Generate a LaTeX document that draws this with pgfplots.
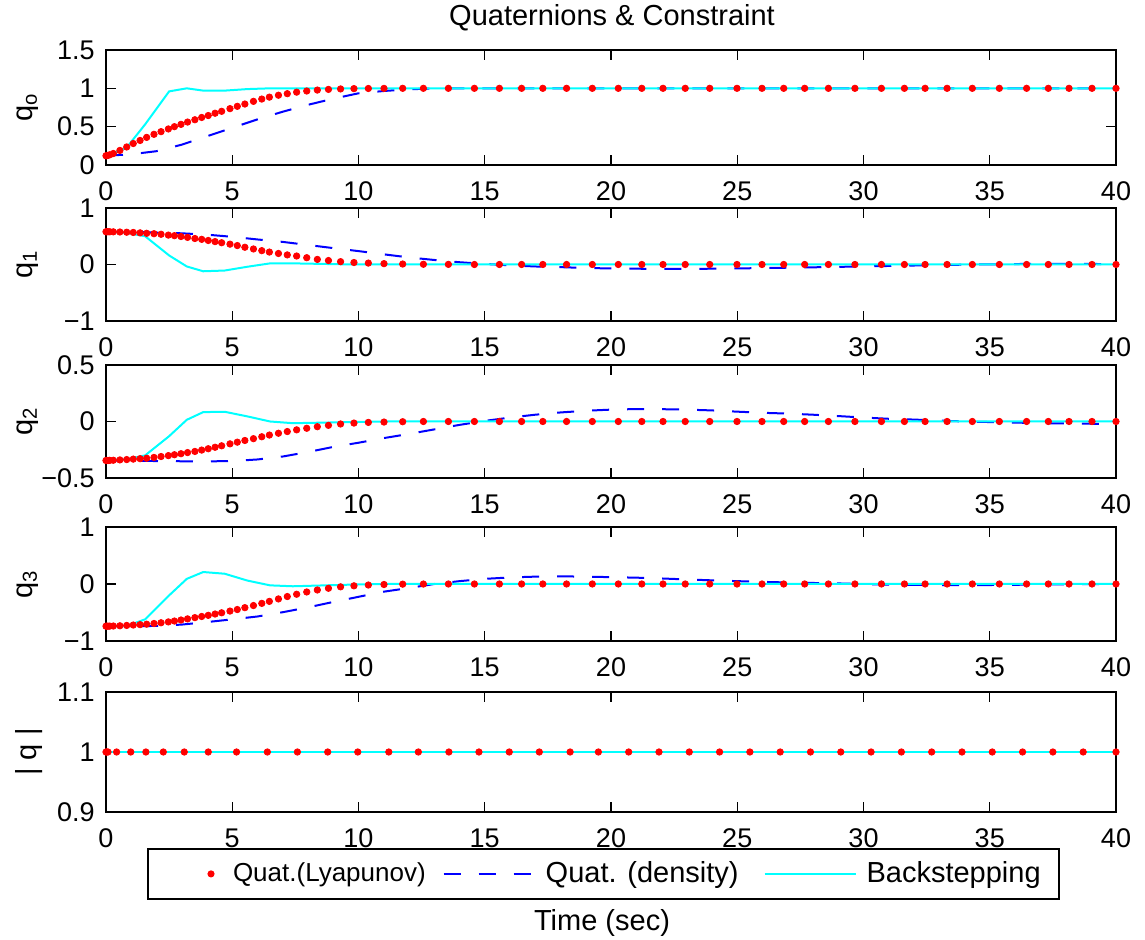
\documentclass[border=0pt]{standalone}
\usepackage{fontspec}
\setmainfont{Liberation Sans}
\usepackage{pgfplots}
\usepackage{pgfplotstable}
\pgfplotsset{compat=1.18}
\definecolor{mred}{rgb}{1,0,0}
\definecolor{mblue}{rgb}{0,0,1}
\definecolor{mcyan}{rgb}{0,1,1}

% Quaternion components, Lyapunov controller (solver output steps)
\pgfplotstableread{
t      q0     q1     q2      q3
0      0.120  0.580 -0.345  -0.740
0.03   0.122  0.580 -0.345  -0.740
0.08   0.126  0.580 -0.345  -0.740
0.15   0.133  0.579 -0.344  -0.739
0.29   0.150  0.578 -0.343  -0.737
0.55   0.190  0.575 -0.340  -0.733
0.82   0.235  0.571 -0.337  -0.727
1.08   0.280  0.567 -0.333  -0.720
1.35   0.320  0.560 -0.329  -0.713
1.61   0.360  0.552 -0.325  -0.705
1.90   0.400  0.545 -0.318  -0.693
2.18   0.435  0.535 -0.310  -0.680
2.47   0.470  0.520 -0.302  -0.665
2.71   0.500  0.510 -0.294  -0.650
2.97   0.530  0.495 -0.285  -0.632
3.23   0.560  0.480 -0.275  -0.612
3.52   0.590  0.460 -0.265  -0.590
3.79   0.620  0.445 -0.253  -0.570
4.05   0.645  0.425 -0.241  -0.550
4.32   0.675  0.405 -0.228  -0.527
4.58   0.700  0.385 -0.215  -0.505
4.91   0.735  0.360 -0.198  -0.475
5.20   0.765  0.335 -0.183  -0.448
5.50   0.795  0.305 -0.168  -0.415
5.84   0.830  0.275 -0.152  -0.378
6.17   0.860  0.245 -0.135  -0.340
6.47   0.885  0.220 -0.120  -0.305
6.83   0.910  0.195 -0.104  -0.262
7.18   0.930  0.170 -0.089  -0.220
7.55   0.950  0.150 -0.074  -0.180
7.95   0.965  0.120 -0.060  -0.140
8.37   0.977  0.090 -0.046  -0.105
8.81   0.986  0.070 -0.034  -0.075
9.29   0.992  0.050 -0.022  -0.050
9.82   0.996  0.035 -0.014  -0.032
10.39  0.998  0.025 -0.008  -0.018
11.01  0.999  0.015 -0.005  -0.009
11.75  1.000  0.008 -0.002  -0.003
12.57  1.000  0.004  0.000  -0.001
13.56  1.000  0.002  0.000   0.000
14.59  1.000  0.000  0.000   0.000
15.58  1.000  0.000  0.000   0.000
16.46  1.000  0.000  0.000   0.000
17.30  1.000  0.000  0.000   0.000
18.24  1.000  0.000  0.000   0.000
19.26  1.000  0.000  0.000   0.000
20.29  1.000  0.000  0.000   0.000
21.22  1.000  0.000  0.000   0.000
22.06  1.000  0.000  0.000   0.000
22.94  1.000  0.000  0.000   0.000
23.91  1.000  0.000  0.000   0.000
24.99  1.000  0.000  0.000   0.000
25.98  1.000  0.000  0.000   0.000
26.84  1.000  0.000  0.000   0.000
27.67  1.000  0.000  0.000   0.000
28.61  1.000  0.000  0.000   0.000
29.66  1.000  0.000  0.000   0.000
30.71  1.000  0.000  0.000   0.000
31.62  1.000  0.000  0.000   0.000
32.44  1.000  0.000  0.000   0.000
33.31  1.000  0.000  0.000   0.000
34.31  1.000  0.000  0.000   0.000
35.38  1.000  0.000  0.000   0.000
36.46  1.000  0.000  0.000   0.000
37.32  1.000  0.000  0.000   0.000
38.14  1.000  0.000  0.000   0.000
39.05  1.000  0.000  0.000   0.000
40.00  1.000  0.000  0.000   0.000
}\lyap

% Norm of the quaternion, Lyapunov controller
\pgfplotstableread{
t      n
0      1
0.03   1
0.08   1
0.42   1
0.98   1
1.58   1
2.27   1
3.10   1
4.05   1
5.17   1
6.39   1
7.58   1
8.78   1
9.97   1
11.20  1
12.37  1
13.58  1
14.77  1
15.97  1
17.16  1
18.38  1
19.50  1
20.70  1
21.90  1
23.10  1
24.30  1
25.50  1
26.70  1
27.90  1
29.10  1
30.30  1
31.50  1
32.70  1
33.90  1
35.10  1
36.30  1
37.50  1
38.70  1
40.00  1
}\lyapnorm

% Density-function controller
\pgfplotstableread{
t   q0     q1      q2      q3      n
0   0.120  0.580  -0.345  -0.740   1
1   0.140  0.576  -0.347  -0.740   1
2   0.180  0.566  -0.350  -0.736   1
3   0.265  0.552  -0.352  -0.712   1
4   0.375  0.528  -0.353  -0.668   1
5   0.485  0.490  -0.350  -0.620   1
6   0.595  0.443  -0.336  -0.570   1
7   0.695  0.400  -0.310  -0.495   1
8   0.785  0.345  -0.270  -0.410   1
9   0.865  0.290  -0.225  -0.315   1
10  0.935  0.237  -0.188  -0.225   1
11  0.965  0.180  -0.147  -0.135   1
12  0.988  0.125  -0.110  -0.070   1
13  0.997  0.080  -0.070   0.000   1
14  1.000  0.040  -0.030   0.050   1
15  1.000  0.010   0.005   0.090   1
16  1.000 -0.015   0.035   0.115   1
17  1.000 -0.035   0.060   0.129   1
18  1.000 -0.047   0.080   0.134   1
19  1.000 -0.062   0.095   0.129   1
20  1.000 -0.070   0.105   0.120   1
21  1.000 -0.075   0.110   0.111   1
22  1.000 -0.077   0.109   0.097   1
23  1.000 -0.077   0.105   0.080   1
24  1.000 -0.075   0.098   0.064   1
25  1.000 -0.069   0.087   0.050   1
26  1.000 -0.064   0.077   0.037   1
27  1.000 -0.057   0.070   0.027   1
28  1.000 -0.050   0.060   0.018   1
29  1.000 -0.042   0.048   0.010   1
30  1.000 -0.034   0.035  -0.002   1
31  1.000 -0.026   0.024  -0.012   1
32  1.000 -0.018   0.017  -0.017   1
33  1.000 -0.010   0.008  -0.018   1
34  1.000 -0.003   0.000  -0.018   1
35  1.000  0.003  -0.005  -0.018   1
36  1.000  0.008  -0.010  -0.014   1
37  1.000  0.012  -0.014  -0.010   1
38  1.000  0.013  -0.018  -0.006   1
39  1.000  0.010  -0.020  -0.003   1
40  1.000  0.005  -0.022  -0.002   1
}\dens

% Backstepping controller
\pgfplotstableread{
t     q0     q1      q2      q3      n
0     0.120  0.580  -0.340  -0.740   1
0.8   0.220  0.560  -0.335  -0.740   1
1.55  0.530  0.500  -0.300  -0.620   1
2.5   0.960  0.160  -0.130  -0.200   1
3.2   1.000 -0.035   0.015   0.090   1
3.85  0.970 -0.120   0.083   0.210   1
4.7   0.970 -0.107   0.086   0.180   1
5.6   0.990 -0.040   0.045   0.060   1
6.5   1.000  0.020   0.000  -0.024   1
7.4   1.000  0.020  -0.015  -0.040   1
8.6   1.000  0.010  -0.010  -0.025   1
9.8   1.000  0.000  -0.005  -0.010   1
11    1.000  0.000   0.000   0.000   1
20    1.000  0.000   0.000   0.000   1
30    1.000  0.000   0.000   0.000   1
40    1.000  0.000   0.000   0.000   1
}\back

\pgfplotsset{
  qpanel/.style={
    anchor=south west,
    scale only axis,
    width=505bp,
    xmin=0, xmax=40,
    xtick={0,5,...,40},
    xticklabels={0,5,10,15,20,25,30,35,40},
    tick align=inside,
    major tick length=5bp,
    axis line style={line width=1bp},
    every tick/.style={black, line width=0.6bp},
    ticklabel style={font=\fontsize{13.5bp}{16bp}\selectfont},
    xticklabel style={anchor=base, inner sep=0pt, yshift=-17.6bp},
    yticklabel style={anchor=east, inner sep=0pt, xshift=-5.5bp},
    label style={font=\fontsize{14.5bp}{17bp}\selectfont},
    ylabel style={at={(axis description cs:-0.0663,0.5)}, anchor=south, inner sep=0pt},
    clip=false,
  },
  lyapstyle/.style={only marks, mark=*, mark size=1.6bp, mred},
  densstyle/.style={mblue, line width=1bp, dash pattern=on 8.5bp off 9bp},
  backstyle/.style={mcyan, line width=1bp},
  lyaplegend/.style={legend image code/.code={%
    \path[draw=none] (0,0) -- (29.5bp,0);
    \draw[mred, mark=*, mark size=1.25bp, only marks] plot coordinates {(22.5bp,0)};}},
  denslegend/.style={legend image code/.code={%
    \draw[mblue, line width=1bp, dash pattern=on 8.5bp off 9bp] (0,0) -- (43.5bp,0);}},
  backlegend/.style={legend image code/.code={%
    \draw[mcyan, line width=1bp] (0,0) -- (45.5bp,0);}},
}

\begin{document}
\begin{tikzpicture}
\path[use as bounding box] (0,0) rectangle (572.5bp,470bp);

% q0
\begin{axis}[qpanel, at={(53bp,387.5bp)}, height=57.5bp,
  ymin=0, ymax=1.5, ytick={0,0.5,1,1.5}, yticklabels={0,0.5,1,1.5},
  ylabel={q\textsubscript{o}},
  title={Quaternions \& Constraint},
  title style={at={(axis description cs:0.501,1.2087)}, anchor=base,
    yshift=-6pt, inner sep=0pt, font=\fontsize{14.5bp}{17bp}\selectfont}]
\addplot[lyapstyle] table[x=t, y=q0] {\lyap};
\addplot[densstyle] table[x=t, y=q0] {\dens};
\addplot[backstyle] table[x=t, y=q0] {\back};
\end{axis}

% q1
\begin{axis}[qpanel, at={(53bp,309.5bp)}, height=56.5bp,
  ymin=-1, ymax=1, ytick={-1,0,1}, yticklabels={−1,0,1},
  ylabel={q\textsubscript{1}}]
\addplot[lyapstyle] table[x=t, y=q1] {\lyap};
\addplot[densstyle] table[x=t, y=q1] {\dens};
\addplot[backstyle] table[x=t, y=q1] {\back};
\end{axis}

% q2
\begin{axis}[qpanel, at={(53bp,231bp)}, height=56.5bp,
  ymin=-0.5, ymax=0.5, ytick={-0.5,0,0.5}, yticklabels={−0.5,0,0.5},
  ylabel={q\textsubscript{2}}]
\addplot[lyapstyle] table[x=t, y=q2] {\lyap};
\addplot[densstyle] table[x=t, y=q2] {\dens};
\addplot[backstyle] table[x=t, y=q2] {\back};
\end{axis}

% q3
\begin{axis}[qpanel, at={(53bp,149.5bp)}, height=57bp,
  ymin=-1, ymax=1, ytick={-1,0,1}, yticklabels={−1,0,1},
  ylabel={q\textsubscript{3}}]
\addplot[lyapstyle] table[x=t, y=q3] {\lyap};
\addplot[densstyle] table[x=t, y=q3] {\dens};
\addplot[backstyle] table[x=t, y=q3] {\back};
\end{axis}

% |q|
\begin{axis}[qpanel, at={(53bp,64bp)}, height=60bp,
  ymin=0.9, ymax=1.1, ytick={0.9,1,1.1}, yticklabels={0.9,1,1.1},
  ylabel={| q |},
  ylabel style={at={(axis description cs:-0.0624,0.5)}},
  xlabel={Time (sec)},
  xlabel style={at={(axis description cs:0.4911,-0.9833)}, anchor=base, inner sep=0pt},
  legend columns=3,
  legend style={
    at={(axis description cs:0.0406,-0.3)}, anchor=north west,
    draw=black, line width=1bp, fill=white,
    inner xsep=9bp, inner ysep=6.45bp,
    font=\fontsize{14.5bp}{17bp}\selectfont,
    cells={anchor=west},
    nodes={inner sep=0pt},
    /tikz/column 1/.style={column sep=4bp},
    /tikz/column 2/.style={column sep=8.5bp},
    /tikz/column 3/.style={column sep=7bp},
    /tikz/column 4/.style={column sep=12.5bp},
    /tikz/column 5/.style={column sep=5bp},
  }]
\addplot[lyapstyle, lyaplegend] table[x=t, y=n] {\lyapnorm};
\addlegendentry{\fontsize{13bp}{15bp}\selectfont Quat.(Lyapunov)}
\addplot[densstyle, denslegend] table[x=t, y=n] {\dens};
\addlegendentry{Quat. (density)}
\addplot[backstyle, backlegend] table[x=t, y=n] {\back};
\addlegendentry{Backstepping}
\end{axis}
\end{tikzpicture}
\end{document}
